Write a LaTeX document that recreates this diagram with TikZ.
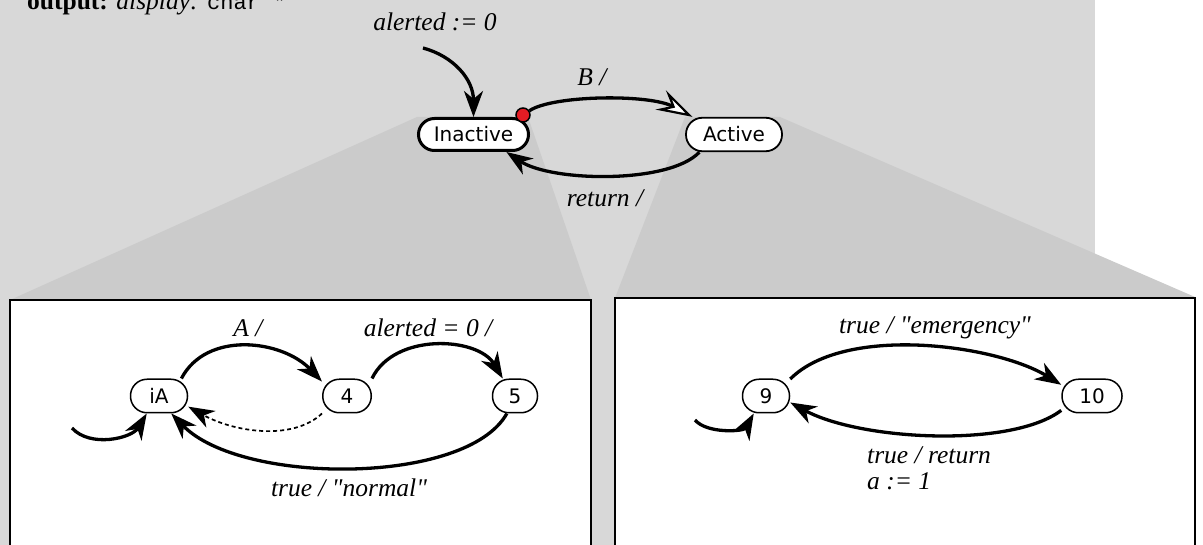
\documentclass[tikz,border=0pt]{standalone}
\usepackage{fontspec}
\setmainfont{Liberation Serif}[Ligatures=TeXOff]
\setsansfont{DejaVu Sans}
\setmonofont{Liberation Mono}
\usetikzlibrary{arrows.meta}
\definecolor{bgpale}{RGB}{216,216,216}
\definecolor{bgfan}{RGB}{203,203,203}
\definecolor{dotred}{RGB}{228,28,36}

\begin{document}
\begin{tikzpicture}[x=1pt,y=-1pt,
  >={Stealth[length=26pt,width=19pt,inset=8pt]},
  state/.style={draw, fill=white, rectangle, rounded corners=16.5pt,
    minimum height=33.5pt, inner sep=0pt, line width=1.5pt,
    font=\sffamily\fontsize{20}{24}\selectfont},
  lbl/.style={font=\itshape\fontsize{25.5}{26}\selectfont, inner sep=0pt},
  panel/.style={draw, fill=white, line width=2pt},
  trans/.style={line width=3.3pt, ->},
  opentrans/.style={line width=3.3pt,
    -{Stealth[open, fill=white, line width=2.2pt, length=36pt, width=22pt, inset=13pt]}},
  hist/.style={line width=1.7pt, dash pattern=on 4pt off 3pt, ->}
]
\clip (0,0) rectangle (1203,545);

% backdrop and the two zoom fans
\fill[bgpale] (0,0) rectangle (1095,545);
\fill[bgfan] (10,300) -- (417,117) -- (528,117) -- (591,300) -- cycle;
\fill[bgfan] (615,298) -- (685,117) -- (780,117) -- (1195,297) -- cycle;

% heading
\node[anchor=base west, inner sep=0pt, font=\fontsize{25.5}{26}\selectfont] (head) at (27,10)
  {\textbf{output:} \textit{display:} {\ttfamily\fontsize{22}{26}\selectfont char *}};

% ---------- top level machine ----------
\node[state, line width=3pt, minimum width=110pt, minimum height=32pt, rounded corners=16pt]
  (inactive) at (473.5,134.5) {Inactive};
\node[state, line width=1.8pt, minimum width=96pt] (active) at (734,134.5) {Active};
\node[circle, draw, fill=dotred, line width=1.5pt, minimum size=14pt, inner sep=0pt] (dot) at (523,115) {};

\coordinate (init0) at (423,48);
\draw[trans] (init0) .. controls +(30,8) and +(0,-38) .. (inactive.north);
\node[lbl] (initlbl) at (435,22) {alerted := 0};

\draw[opentrans] (dot) .. controls +(30,-20) and +(-43,-23) .. (active.157);
\node[lbl] (blbl) at (592,77) {B /};

\draw[trans] (active.207) .. controls +(-30,32) and +(45,30) .. (inactive.-28);
\node[lbl] (retlbl) at (605,198) {return /};

% ---------- left panel ----------
\draw[panel] (10,300) rectangle (591,560);
\node[state, minimum width=57pt] (iA) at (159,396) {iA};
\node[state, minimum width=48.5pt] (n4) at (347,396) {4};
\node[state, minimum width=45pt] (n5) at (515,396) {5};

\coordinate (init1) at (72,428);
\draw[trans] (init1) .. controls +(18,20) and +(-15,25) .. (iA.235);

\draw[trans] (iA.38) .. controls +(25,-48) and +(-40,-42) .. (n4.150);
\node[lbl] (albl) at (248,328) {A /};

\draw[trans] (n4.35) .. controls +(22,-46) and +(-25,-42) .. (n5.125);
\node[lbl] (alertlbl) at (428,328) {alerted = 0 /};

\draw[hist] (n4.215) .. controls +(-30,28) and +(45,25) .. (iA.-20);

\draw[trans] (n5.245) .. controls +(-40,72) and +(70,72) .. (iA.-55);
\node[lbl] (normlbl) at (349,488) {true / "normal"};

% ---------- right panel ----------
\draw[panel] (615,298) rectangle (1195,560);
\node[state, minimum width=47pt] (n9) at (766,396) {9};
\node[state, minimum width=60pt] (n10) at (1092,396) {10};

\coordinate (init2) at (695,420);
\draw[trans] (init2) .. controls +(12,14) and +(-10,18) .. (n9.235);

\draw[trans] (n9.35) .. controls +(55,-55) and +(-65,-40) .. (n10.160);
\node[lbl] (emlbl) at (935,328) {true / "emergency"};

\draw[trans] (n10.205) .. controls +(-50,38) and +(70,38) .. (n9.-15);
\node[lbl, anchor=north west, align=left] (retlbl2) at (867,446) {true / return\\a := 1};

\end{tikzpicture}
\end{document}
